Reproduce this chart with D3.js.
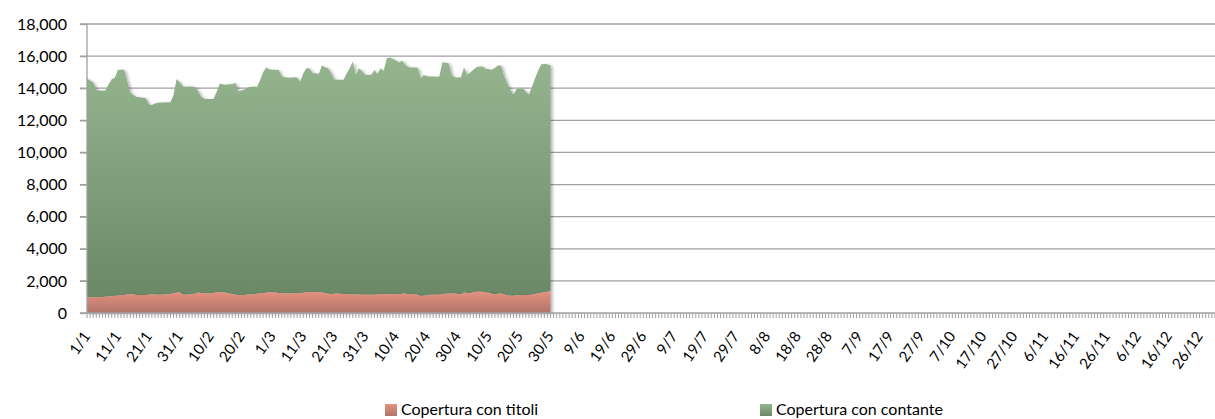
<!DOCTYPE html>
<html>
<head>
<meta charset="utf-8">
<script src="https://cdn.jsdelivr.net/npm/d3@7"></script>
<style>
  body { margin: 0; background: #fff; }
  #mydiv { width: 1215px; height: 419px; }
  text { font-family: Lato, "Noto Sans", sans-serif; fill: #000; }
</style>
</head>
<body>
<div id="mydiv"></div>
<script>
// serie (1/1 .. 30/5, un valore al giorno)
var titoli = [
  980, 975, 970, 975, 985, 990, 1010, 1030, 1050, 1070,
  1080, 1100, 1120, 1160, 1185, 1150, 1120, 1120, 1115, 1120,
  1130, 1160, 1160, 1140, 1140, 1150, 1160, 1190, 1225, 1260,
  1290, 1150, 1140, 1145, 1150, 1220, 1270, 1250, 1230, 1220,
  1210, 1250, 1300, 1300, 1280, 1260, 1220, 1180, 1130, 1100,
  1110, 1120, 1150, 1160, 1170, 1200, 1230, 1240, 1260, 1290,
  1280, 1270, 1250, 1230, 1220, 1210, 1210, 1210, 1210, 1230,
  1260, 1300, 1310, 1310, 1300, 1300, 1270, 1250, 1200, 1180,
  1200, 1210, 1200, 1190, 1180, 1180, 1160, 1160, 1150, 1140,
  1140, 1140, 1140, 1140, 1150, 1160, 1170, 1180, 1170, 1160,
  1150, 1170, 1200, 1210, 1140, 1190, 1190, 1130, 1060, 1080,
  1110, 1130, 1140, 1140, 1140, 1170, 1200, 1220, 1220, 1210,
  1190, 1160, 1280, 1250, 1230, 1300, 1320, 1330, 1320, 1280,
  1260, 1200, 1160, 1200, 1220, 1150, 1100, 1080, 1080, 1100,
  1120, 1120, 1120, 1120, 1130, 1180, 1230, 1260, 1290, 1330,
  1370
];
var contante = [
  13640, 13505, 13380, 12925, 12875, 12860, 12860, 13220, 13510, 13580,
  14060, 14050, 14030, 13290, 12535, 12430, 12340, 12310, 12285, 12260,
  11870, 11790, 11890, 11950, 11970, 11960, 11960, 11940, 12355, 13320,
  13060, 12950, 12950, 12955, 12950, 12820, 12530, 12210, 12110, 12110,
  12120, 12090, 12490, 13000, 12950, 12950, 13020, 13070, 13210, 12680,
  12770, 12800, 12890, 12920, 12930, 12880, 13270, 13760, 14030, 13880,
  13870, 13880, 13890, 13520, 13470, 13460, 13450, 13470, 13450, 13190,
  13680, 13950, 13920, 13630, 13640, 13590, 14150, 14050, 14050, 13760,
  13350, 13310, 13320, 13330, 13720, 14070, 14510, 13670, 14100, 13910,
  13700, 13690, 13700, 14000, 13730, 14090, 13910, 14690, 14750, 14660,
  14560, 14450, 14510, 14250, 14160, 14100, 14100, 14150, 13560, 13750,
  13640, 13600, 13590, 13580, 13590, 14450, 14380, 14340, 13610, 13460,
  13480, 13520, 14010, 13590, 13750, 13850, 13980, 14020, 14030, 13940,
  13920, 13950, 14120, 14220, 14200, 13580, 13200, 12820, 12510, 12850,
  12840, 12840, 12680, 12470, 12970, 13440, 13870, 14240, 14220, 14170,
  14050
];
var serieNomi = ["Copertura con titoli", "Copertura con contante"];
var yTicks = [0, 2000, 4000, 6000, 8000, 10000, 12000, 14000, 16000, 18000];

// asse categorie: tutti i giorni del 2016 (bisestile)
var giorni = d3.timeDays(new Date(2016, 0, 1), new Date(2017, 0, 1));
var fmtGiorno = d3.timeFormat("%-d/%-m");

var width = 1215, height = 419;
var plotLeft = 87, plotRight = 1215, plotTop = 24, plotBottom = 313;

var svg = d3.select("#mydiv").append("svg")
  .attr("width", width)
  .attr("height", height)
  .style("background-color", "white");

var defs = svg.append("defs");

var gVerde = defs.append("linearGradient").attr("id", "gVerde")
  .attr("x1", 0).attr("y1", 0).attr("x2", 0).attr("y2", 1);
gVerde.append("stop").attr("offset", "0%").attr("stop-color", "#95b58f");
gVerde.append("stop").attr("offset", "100%").attr("stop-color", "#6b8866");

var gRosa = defs.append("linearGradient").attr("id", "gRosa")
  .attr("x1", 0).attr("y1", 0).attr("x2", 0).attr("y2", 1);
gRosa.append("stop").attr("offset", "0%").attr("stop-color", "#e6927f");
gRosa.append("stop").attr("offset", "100%").attr("stop-color", "#b0746a");

var ombra = defs.append("filter").attr("id", "ombra")
  .attr("x", "-5%").attr("y", "-5%").attr("width", "115%").attr("height", "115%");
ombra.append("feDropShadow").attr("dx", 2).attr("dy", 1)
  .attr("stdDeviation", 1.5).attr("flood-color", "#000").attr("flood-opacity", 0.3);

var x = d3.scalePoint()
  .domain(d3.range(giorni.length))
  .range([plotLeft, plotRight]);

var y = d3.scaleLinear()
  .domain([0, 18000])
  .range([plotBottom, plotTop]);

// griglia orizzontale
svg.selectAll(".grid")
  .data(yTicks.filter(function(d) { return d > 0; }))
  .enter().append("line")
  .attr("class", "grid")
  .attr("x1", plotLeft - 7).attr("x2", plotRight)
  .attr("y1", function(d) { return y(d); })
  .attr("y2", function(d) { return y(d); })
  .attr("stroke", "#a0a0a0")
  .attr("stroke-width", 1.3);

// dati impilati
var righe = titoli.map(function(v, i) {
  return { i: i, titoli: v, contante: contante[i] };
});
var stack = d3.stack().keys(["titoli", "contante"]);
var serie = stack(righe);

var area = d3.area()
  .x(function(d) { return x(d.data.i); })
  .y0(function(d) { return y(d[0]); })
  .y1(function(d) { return y(d[1]); });

var fills = ["url(#gRosa)", "url(#gVerde)"];

svg.selectAll(".serie")
  .data(serie.slice().reverse())
  .enter().append("path")
  .attr("class", "serie")
  .attr("d", area)
  .attr("fill", function(d) { return fills[d.index]; })
  .attr("filter", "url(#ombra)");

// asse y
var yaxis = svg.append("g")
  .attr("transform", "translate(" + plotLeft + ",0)")
  .call(d3.axisLeft(y).tickValues(yTicks).tickSize(7).tickPadding(13)
    .tickFormat(d3.format(",")));
yaxis.selectAll("text").style("font-size", "16px");
yaxis.selectAll("line").attr("stroke", "#a0a0a0").attr("stroke-width", 1.3);
yaxis.select("path").attr("stroke", "#a0a0a0").attr("stroke-width", 1.3)
  .attr("d", "M0," + plotTop + "V" + plotBottom);

// asse x
var xaxis = svg.append("g")
  .attr("transform", "translate(0," + plotBottom + ")");
xaxis.append("line")
  .attr("x1", plotLeft - 7).attr("x2", plotRight)
  .attr("y1", 0).attr("y2", 0)
  .attr("stroke", "#a0a0a0").attr("stroke-width", 1.3);
xaxis.selectAll(".tick")
  .data(d3.range(giorni.length))
  .enter().append("line")
  .attr("class", "tick")
  .attr("x1", function(d) { return x(d); })
  .attr("x2", function(d) { return x(d); })
  .attr("y1", 0).attr("y2", 5)
  .attr("stroke", "#a0a0a0").attr("stroke-width", 1);

var etichette = d3.range(0, giorni.length, 10);
xaxis.selectAll(".xlab")
  .data(etichette)
  .enter().append("text")
  .attr("class", "xlab")
  .attr("transform", function(d) {
    return "translate(" + (x(d) + 4) + ",23) rotate(-55)";
  })
  .attr("text-anchor", "end")
  .style("font-size", "15px")
  .text(function(d) { return fmtGiorno(giorni[d]); });

// legenda
var legX = [385, 760];
var leg = svg.selectAll(".leg")
  .data(serieNomi)
  .enter().append("g")
  .attr("class", "leg")
  .attr("transform", function(d, i) { return "translate(" + legX[i] + ",404)"; });
leg.append("rect")
  .attr("width", 12).attr("height", 12)
  .attr("fill", function(d, i) { return fills[i]; });
leg.append("text")
  .attr("x", 16).attr("y", 11)
  .style("font-size", "16px")
  .text(function(d) { return d; });
</script>
</body>
</html>
